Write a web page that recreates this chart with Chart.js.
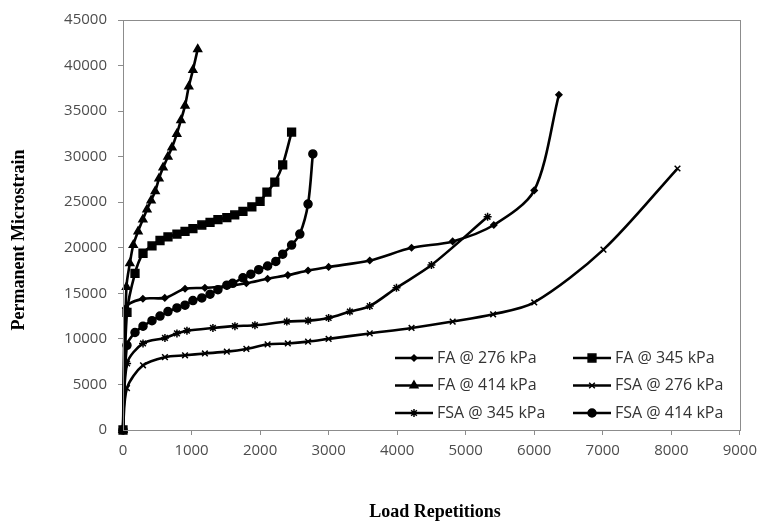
<!DOCTYPE html>
<html>
<head>
<meta charset="utf-8">
<script src="https://cdn.jsdelivr.net/npm/chart.js@4.4.0/dist/chart.umd.min.js"></script>
<style>
  html, body { margin: 0; padding: 0; background: #fff; }
</style>
</head>
<body>
<canvas id="strainChart" width="764" height="523"></canvas>
<script>
// load repetitions (x) and permanent microstrain (y) per series
const repsFA276 = [0, 40, 290, 610, 905, 1195, 1515, 1800, 2110, 2405, 2700, 3000, 3600, 4210, 4810, 5410, 6000, 6360];
const strainFA276 = [0, 13400, 14400, 14500, 15500, 15600, 15800, 16100, 16600, 17000, 17500, 17900, 18600, 20000, 20700, 22500, 26300, 36800];

const repsFA345 = [0, 58, 175, 292, 423, 540, 656, 787, 905, 1020, 1150, 1270, 1385, 1515, 1630, 1750, 1880, 2000, 2100, 2215, 2330, 2460];
const strainFA345 = [0, 12900, 17200, 19400, 20200, 20800, 21200, 21500, 21800, 22100, 22500, 22800, 23100, 23300, 23600, 24000, 24500, 25100, 26100, 27200, 29100, 32700];

const repsFA414 = [0, 50, 100, 150, 220, 290, 350, 410, 470, 525, 585, 655, 715, 785, 845, 905, 960, 1020, 1090];
const strainFA414 = [0, 15700, 18300, 20300, 21800, 23100, 24200, 25200, 26200, 27600, 28800, 30000, 31000, 32500, 34000, 35600, 37700, 39500, 41800];

const repsFSA276 = [0, 58, 292, 612, 905, 1195, 1515, 1800, 2110, 2405, 2700, 3000, 3600, 4210, 4810, 5400, 6000, 7010, 8090];
const strainFSA276 = [0, 4600, 7100, 8000, 8200, 8400, 8600, 8900, 9400, 9500, 9700, 10000, 10600, 11200, 11900, 12700, 14000, 19800, 28700];

const repsFSA345 = [0, 60, 292, 612, 787, 933, 1312, 1633, 1925, 2390, 2700, 3000, 3310, 3600, 3990, 4500, 5320];
const strainFSA345 = [0, 7300, 9500, 10100, 10600, 10900, 11200, 11400, 11500, 11900, 12000, 12300, 13000, 13600, 15600, 18100, 23400];

const repsFSA414 = [0, 58, 175, 292, 423, 540, 656, 787, 905, 1020, 1150, 1270, 1385, 1515, 1600, 1750, 1865, 1980, 2110, 2230, 2330, 2460, 2580, 2700, 2770];
const strainFSA414 = [0, 9300, 10700, 11400, 12000, 12500, 13000, 13400, 13700, 14200, 14500, 14900, 15400, 15900, 16100, 16700, 17100, 17600, 18000, 18500, 19300, 20300, 21500, 24800, 30300];

const xTicks = [0, 1000, 2000, 3000, 4000, 5000, 6000, 7000, 8000, 9000];
const yTicks = [0, 5000, 10000, 15000, 20000, 25000, 30000, 35000, 40000, 45000];

const zip = (xs, ys) => xs.map((x, i) => ({ x: x, y: ys[i] }));

function series(label, xs, ys, style, radius) {
    return {
        label: label,
        data: zip(xs, ys),
        borderColor: '#000',
        backgroundColor: '#000',
        borderWidth: 2.6,
        tension: 0.3,
        clip: false,
        pointStyle: style,
        pointRadius: radius,
        pointBorderWidth: 1.5,
        pointBackgroundColor: '#000',
        pointBorderColor: '#000'
    };
}

// frame, axis titles and the two-column legend inside the plot
const boxLegend = {
    id: 'boxLegend',
    afterDatasetsDraw(chart) {
        const ctx = chart.ctx;
        const area = chart.chartArea;
        ctx.save();
        ctx.strokeStyle = '#8c8c8c';
        ctx.lineWidth = 1;
        ctx.strokeRect(Math.round(area.left) + 0.5, Math.round(area.top) + 0.5,
            Math.round(area.width), Math.round(area.height));

        ctx.fillStyle = '#000';
        ctx.font = 'bold 18px "Liberation Serif"';
        ctx.textAlign = 'center';
        ctx.textBaseline = 'middle';
        ctx.fillText('Load Repetitions', 435, 512);
        ctx.save();
        ctx.translate(19, 240);
        ctx.rotate(-Math.PI / 2);
        ctx.fillText('Permanent Microstrain', 0, 0);
        ctx.restore();

        chart.data.datasets.forEach((ds, i) => {
            const col = i % 2;
            const row = Math.floor(i / 2);
            const x0 = area.left + 272 + col * 178;
            const y = area.top + 338 + row * 27.5;
            ctx.strokeStyle = '#000';
            ctx.fillStyle = '#000';
            ctx.lineWidth = 2.6;
            ctx.beginPath();
            ctx.moveTo(x0, y);
            ctx.lineTo(x0 + 38, y);
            ctx.stroke();
            ctx.lineWidth = 1.5;
            Chart.helpers.drawPoint(ctx, {
                pointStyle: ds.pointStyle,
                radius: ds.pointRadius,
                rotation: 0,
                borderWidth: 1.5
            }, x0 + 19, y);
            ctx.fillStyle = '#333';
            ctx.font = '16px "Open Sans"';
            ctx.textBaseline = 'middle';
            ctx.textAlign = 'left';
            ctx.fillText(ds.label, x0 + 42, y);
        });
        ctx.restore();
    }
};

const tickFont = { family: '"Open Sans"', size: 15 };

new Chart(document.getElementById('strainChart').getContext('2d'), {
    type: 'line',
    data: {
        datasets: [
            series('FA @ 276 kPa', repsFA276, strainFA276, 'rectRot', 3),
            series('FA @ 345 kPa', repsFA345, strainFA345, 'rect', 5.5),
            series('FA @ 414 kPa', repsFA414, strainFA414, 'triangle', 4.5),
            series('FSA @ 276 kPa', repsFSA276, strainFSA276, 'crossRot', 4),
            series('FSA @ 345 kPa', repsFSA345, strainFSA345, 'star', 4),
            series('FSA @ 414 kPa', repsFSA414, strainFSA414, 'circle', 4)
        ]
    },
    options: {
        responsive: false,
        animation: false,
        layout: { padding: { top: 17, right: 23, left: 0, bottom: 0 } },
        scales: {
            x: {
                type: 'linear',
                min: 0,
                max: 9000,
                afterBuildTicks: (scale) => { scale.ticks = xTicks.map(v => ({ value: v })); },
                afterFit: (scale) => { scale.height = 93; },
                grid: { drawOnChartArea: false, color: '#8c8c8c', tickLength: 5 },
                border: { color: '#8c8c8c' },
                ticks: { color: '#4d4d4d', font: tickFont, padding: 7, maxRotation: 0, callback: (v) => String(v) }
            },
            y: {
                min: 0,
                max: 45000,
                afterBuildTicks: (scale) => { scale.ticks = yTicks.map(v => ({ value: v })); },
                afterFit: (scale) => { scale.width = 123; },
                grid: { drawOnChartArea: false, color: '#8c8c8c', tickLength: 5 },
                border: { color: '#8c8c8c' },
                ticks: { color: '#4d4d4d', font: tickFont, padding: 11, callback: (v) => String(v) }
            }
        },
        plugins: {
            legend: { display: false },
            tooltip: { enabled: false }
        }
    },
    plugins: [boxLegend]
});
</script>
</body>
</html>
